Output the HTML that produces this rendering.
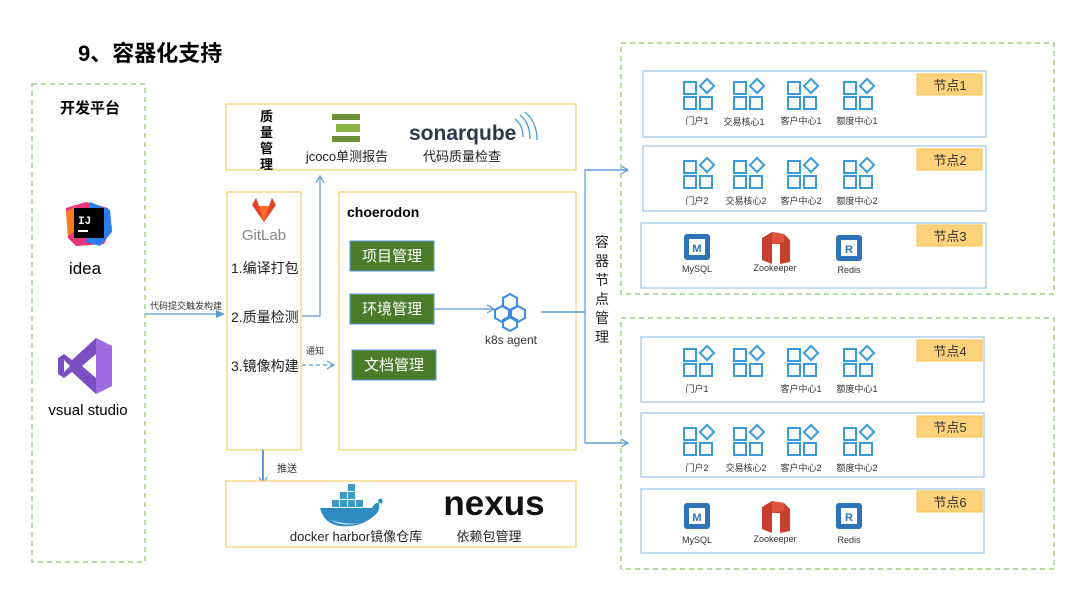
<!DOCTYPE html>
<html><head><meta charset="utf-8"><style>
html,body{margin:0;padding:0;background:#fff;}
svg{display:block;font-family:"Liberation Sans","Noto Sans CJK SC",sans-serif;}
</style></head><body>
<svg width="1080" height="606" viewBox="0 0 1080 606" xmlns="http://www.w3.org/2000/svg">
<defs>
<g id="ic" fill="none" stroke="#3a9ad9" stroke-width="2">
<rect x="1" y="2" width="12" height="12"/><rect x="1" y="17" width="12" height="12"/><rect x="17" y="17" width="12" height="12"/>
<rect x="19" y="1" width="10" height="10" transform="rotate(45 24 6)"/>
</g>
<marker id="ar" markerWidth="10" markerHeight="10" refX="8" refY="5" orient="auto" markerUnits="userSpaceOnUse"><path d="M1,1 L8,5 L1,9" fill="none" stroke="#5b9bd5" stroke-width="1.2"/></marker>
<marker id="arf" markerWidth="10" markerHeight="10" refX="8" refY="5" orient="auto" markerUnits="userSpaceOnUse"><path d="M0,1 L9,5 L0,9z" fill="#5b9bd5"/></marker>
<g id="mysql"><rect x="0" y="0" width="26" height="26" rx="3" fill="#2e73b8"/><rect x="5" y="5" width="16" height="16" fill="#fff"/><text x="13" y="18" font-size="11" font-weight="bold" fill="#2e73b8" text-anchor="middle">M</text></g>
<g id="redis"><rect x="0" y="0" width="26" height="26" rx="3" fill="#2e73b8"/><rect x="5" y="5" width="16" height="16" fill="#fff"/><text x="13" y="18" font-size="11" font-weight="bold" fill="#2e73b8" text-anchor="middle">R</text></g>
<g id="zk"><path d="M0,6 L10,0 L22,2 L28,8 L28,30 L18,32 L18,12 L10,12 L10,32 L0,28z" fill="#c7402e"/><path d="M10,0 L22,2 L22,10 L10,12z" fill="#e0553f"/></g>
</defs>

<text x="78" y="61" font-size="22" font-weight="bold" fill="#000">9、容器化支持</text>

<rect x="32" y="84" width="113" height="478" fill="none" stroke="#8cc66a" stroke-width="1.2" stroke-dasharray="5,4"/>
<text x="60" y="113" font-size="15" font-weight="bold">开发平台</text>
<g transform="translate(66,202)">
<path d="M0,6 L20,0 L42,6 L46,26 L38,42 L10,44 L2,36z" fill="#e8347a"/>
<path d="M24,0 L44,8 L46,30 L34,44 L20,40z" fill="#2b7de9"/>
<path d="M0,10 L10,4 L8,30 L2,34z" fill="#f47c20"/>
<rect x="8" y="6" width="30" height="30" fill="#000"/>
<text x="12" y="22" font-size="11" font-weight="bold" fill="#fff" font-family="Liberation Mono">IJ</text>
<rect x="12" y="28" width="10" height="2" fill="#fff"/>
</g>
<text x="85" y="274" font-size="17" text-anchor="middle">idea</text>
<g transform="translate(58,338)">
<path d="M38,0 L54,8 L54,48 L38,56 L14,34 L6,40 L0,36 L0,20 L6,16 L14,22z M38,16 L24,28 L38,40z M6,22 L6,34 L12,28z" fill="#7a4fc2" fill-rule="evenodd"/>
<path d="M38,0 L54,8 L54,48 L38,56z" fill="#9b6de0"/>
</g>
<text x="88" y="415" font-size="15" text-anchor="middle">vsual studio</text>

<line x1="145" y1="314" x2="224" y2="314" stroke="#5b9bd5" stroke-width="1.2" marker-end="url(#arf)"/>
<text x="150" y="309" font-size="9" fill="#333">代码提交触发构建</text>

<rect x="226" y="104" width="350" height="66" fill="#fff" stroke="#f5cf6a" stroke-width="1.2"/>
<g font-size="13" font-weight="bold"><text x="260" y="121">质</text><text x="260" y="137">量</text><text x="260" y="153">管</text><text x="260" y="169">理</text></g>
<g transform="translate(332,114)"><rect x="0" y="0" width="28" height="6" fill="#6d8f35"/><rect x="4" y="10" width="24" height="8" fill="#8bb144"/><rect x="0" y="22" width="28" height="6" fill="#6d8f35"/></g>
<text x="347" y="161" font-size="13" text-anchor="middle" fill="#222">jcoco单测报告</text>
<text x="409" y="140" font-size="21" font-weight="bold" fill="#2a3a4a">sonarqube</text>
<path d="M515,119 q8,6 8,18 M520,115 q10,8 10,24 M525,112 q12,10 12,28" fill="none" stroke="#4e9bd7" stroke-width="1.3"/>
<text x="462" y="161" font-size="13" text-anchor="middle" fill="#222">代码质量检查</text>

<rect x="227" y="192" width="74" height="258" fill="#fff" stroke="#f5cf6a" stroke-width="1.2"/>
<path d="M252,205 L256,198 L259,206 L269,206 L272,198 L276,205 L264,222z" fill="#e24329"/>
<path d="M259,206 L269,206 L264,222z" fill="#fc6d26"/>
<text x="264" y="240" font-size="15" fill="#888" text-anchor="middle">GitLab</text>
<g font-size="14" fill="#222"><text x="231" y="273">1.编译打包</text><text x="231" y="322">2.质量检测</text><text x="231" y="371">3.镜像构建</text></g>
<polyline points="302,316 320,316 320,176" fill="none" stroke="#5b9bd5" stroke-width="1.2" marker-end="url(#ar)"/>
<line x1="302" y1="365" x2="334" y2="365" stroke="#5b9bd5" stroke-width="1.2" stroke-dasharray="4,3" marker-end="url(#ar)"/>
<text x="306" y="354" font-size="9" fill="#333">通知</text>
<line x1="263" y1="450" x2="263" y2="484" stroke="#5b9bd5" stroke-width="2" marker-end="url(#ar)"/>
<text x="277" y="472" font-size="10" fill="#333">推送</text>

<rect x="339" y="192" width="237" height="258" fill="#fff" stroke="#f5cf6a" stroke-width="1.2"/>
<text x="347" y="217" font-size="14" font-weight="bold">choerodon</text>
<g font-size="15" fill="#fff">
<rect x="350" y="241" width="84" height="30" fill="#4a7c2a" stroke="#5b9bd5"/><text x="392" y="261" text-anchor="middle">项目管理</text>
<rect x="350" y="294" width="84" height="30" fill="#4a7c2a" stroke="#5b9bd5"/><text x="392" y="314" text-anchor="middle">环境管理</text>
<rect x="352" y="350" width="84" height="30" fill="#4a7c2a" stroke="#5b9bd5"/><text x="394" y="370" text-anchor="middle">文档管理</text>
</g>
<line x1="434" y1="309" x2="494" y2="309" stroke="#5b9bd5" stroke-width="1.2" marker-end="url(#ar)"/>
<g fill="none" stroke="#3d8be0" stroke-width="2">
<polygon points="510,294 517,298 517,306 510,310 503,306 503,298"/>
<polygon points="502,306 509,310 509,318 502,322 495,318 495,310"/>
<polygon points="518,306 525,310 525,318 518,322 511,318 511,310"/>
<polygon points="510,316 517,320 517,327 510,331 503,327 503,320"/>
</g>
<text x="511" y="344" font-size="12" text-anchor="middle" fill="#333">k8s agent</text>
<line x1="541" y1="312" x2="585" y2="312" stroke="#5b9bd5" stroke-width="1.5"/>
<polyline points="628,170 585,170 585,443 628,443" fill="none" stroke="#5b9bd5" stroke-width="1.2"/>
<line x1="585" y1="170" x2="628" y2="170" stroke="#5b9bd5" stroke-width="1.2" marker-end="url(#ar)"/>
<line x1="585" y1="443" x2="628" y2="443" stroke="#5b9bd5" stroke-width="1.2" marker-end="url(#ar)"/>
<g font-size="14" fill="#222" text-anchor="middle"><text x="602" y="247">容</text><text x="602" y="266">器</text><text x="602" y="285">节</text><text x="602" y="304">点</text><text x="602" y="323">管</text><text x="602" y="342">理</text></g>

<rect x="226" y="481" width="350" height="66" fill="#fff" stroke="#f5cf6a" stroke-width="1.2"/>
<g transform="translate(320,484)">
<g fill="#3b9bc4"><rect x="28" y="0" width="7" height="7"/><rect x="20" y="8" width="7" height="7"/><rect x="28" y="8" width="7" height="7"/><rect x="12" y="16" width="7" height="7"/><rect x="20" y="16" width="7" height="7"/><rect x="28" y="16" width="7" height="7"/><rect x="36" y="16" width="7" height="7"/></g>
<path d="M0,24 L52,24 Q56,16 62,20 Q64,12 58,16 Q62,26 54,32 Q40,44 20,42 Q4,40 0,24z" fill="#2f8cc2"/>
<path d="M10,36 Q24,44 44,38 Q30,42 10,36z" fill="#cfe6f2"/>
</g>
<text x="356" y="541" font-size="13" text-anchor="middle" fill="#222">docker harbor镜像仓库</text>
<text x="494" y="515" font-size="35" font-weight="bold" text-anchor="middle" fill="#111">nexus</text>
<text x="489" y="541" font-size="13" text-anchor="middle" fill="#222">依赖包管理</text>

<rect x="621" y="43" width="433" height="251" fill="none" stroke="#8cc66a" stroke-width="1.2" stroke-dasharray="5,4"/>
<rect x="621" y="318" width="433" height="251" fill="none" stroke="#8cc66a" stroke-width="1.2" stroke-dasharray="5,4"/>

<rect x="643" y="71" width="343" height="66" fill="#fff" stroke="#9ec3e6" stroke-width="1.2"/>
<rect x="643" y="146" width="343" height="65" fill="#fff" stroke="#9ec3e6" stroke-width="1.2"/>
<rect x="641" y="223" width="345" height="65" fill="#fff" stroke="#9ec3e6" stroke-width="1.2"/>
<rect x="641" y="337" width="343" height="65" fill="#fff" stroke="#9ec3e6" stroke-width="1.2"/>
<rect x="641" y="413" width="343" height="64" fill="#fff" stroke="#9ec3e6" stroke-width="1.2"/>
<rect x="641" y="489" width="343" height="64" fill="#fff" stroke="#9ec3e6" stroke-width="1.2"/>

<g fill="#fdd27a" stroke="#f5c04d">
<rect x="917" y="74" width="65" height="21"/><rect x="917" y="149" width="65" height="21"/><rect x="917" y="225" width="65" height="21"/>
<rect x="917" y="340" width="65" height="21"/><rect x="917" y="416" width="65" height="21"/><rect x="917" y="491" width="65" height="21"/>
</g>
<g font-size="13" fill="#333" text-anchor="middle">
<text x="950" y="90">节点1</text><text x="950" y="165">节点2</text><text x="950" y="241">节点3</text>
<text x="950" y="356">节点4</text><text x="950" y="432">节点5</text><text x="950" y="507">节点6</text>
</g>

<use href="#ic" x="683" y="80"/><use href="#ic" x="733" y="80"/><use href="#ic" x="787" y="80"/><use href="#ic" x="843" y="80"/>
<use href="#ic" x="683" y="159"/><use href="#ic" x="733" y="159"/><use href="#ic" x="787" y="159"/><use href="#ic" x="843" y="159"/>
<use href="#ic" x="683" y="347"/><use href="#ic" x="733" y="347"/><use href="#ic" x="787" y="347"/><use href="#ic" x="843" y="347"/>
<use href="#ic" x="683" y="426"/><use href="#ic" x="733" y="426"/><use href="#ic" x="787" y="426"/><use href="#ic" x="843" y="426"/>
<g font-size="9" fill="#333" text-anchor="middle">
<text x="697" y="124">门户1</text><text x="744" y="125">交易核心1</text><text x="801" y="124">客户中心1</text><text x="857" y="124">额度中心1</text>
<text x="697" y="204">门户2</text><text x="746" y="204">交易核心2</text><text x="801" y="204">客户中心2</text><text x="857" y="204">额度中心2</text>
<text x="697" y="392">门户1</text><text x="801" y="392">客户中心1</text><text x="857" y="392">额度中心1</text>
<text x="697" y="471">门户2</text><text x="746" y="471">交易核心2</text><text x="801" y="471">客户中心2</text><text x="857" y="471">额度中心2</text>
</g>

<use href="#mysql" x="684" y="234"/><use href="#zk" x="762" y="232"/><use href="#redis" x="836" y="235"/>
<use href="#mysql" x="684" y="503"/><use href="#zk" x="762" y="501"/><use href="#redis" x="836" y="503"/>
<g font-size="9" fill="#333" text-anchor="middle">
<text x="697" y="272">MySQL</text><text x="775" y="271">Zookeeper</text><text x="849" y="273">Redis</text>
<text x="697" y="543">MySQL</text><text x="775" y="542">Zookeeper</text><text x="849" y="543">Redis</text>
</g>
</svg>
</body></html>
